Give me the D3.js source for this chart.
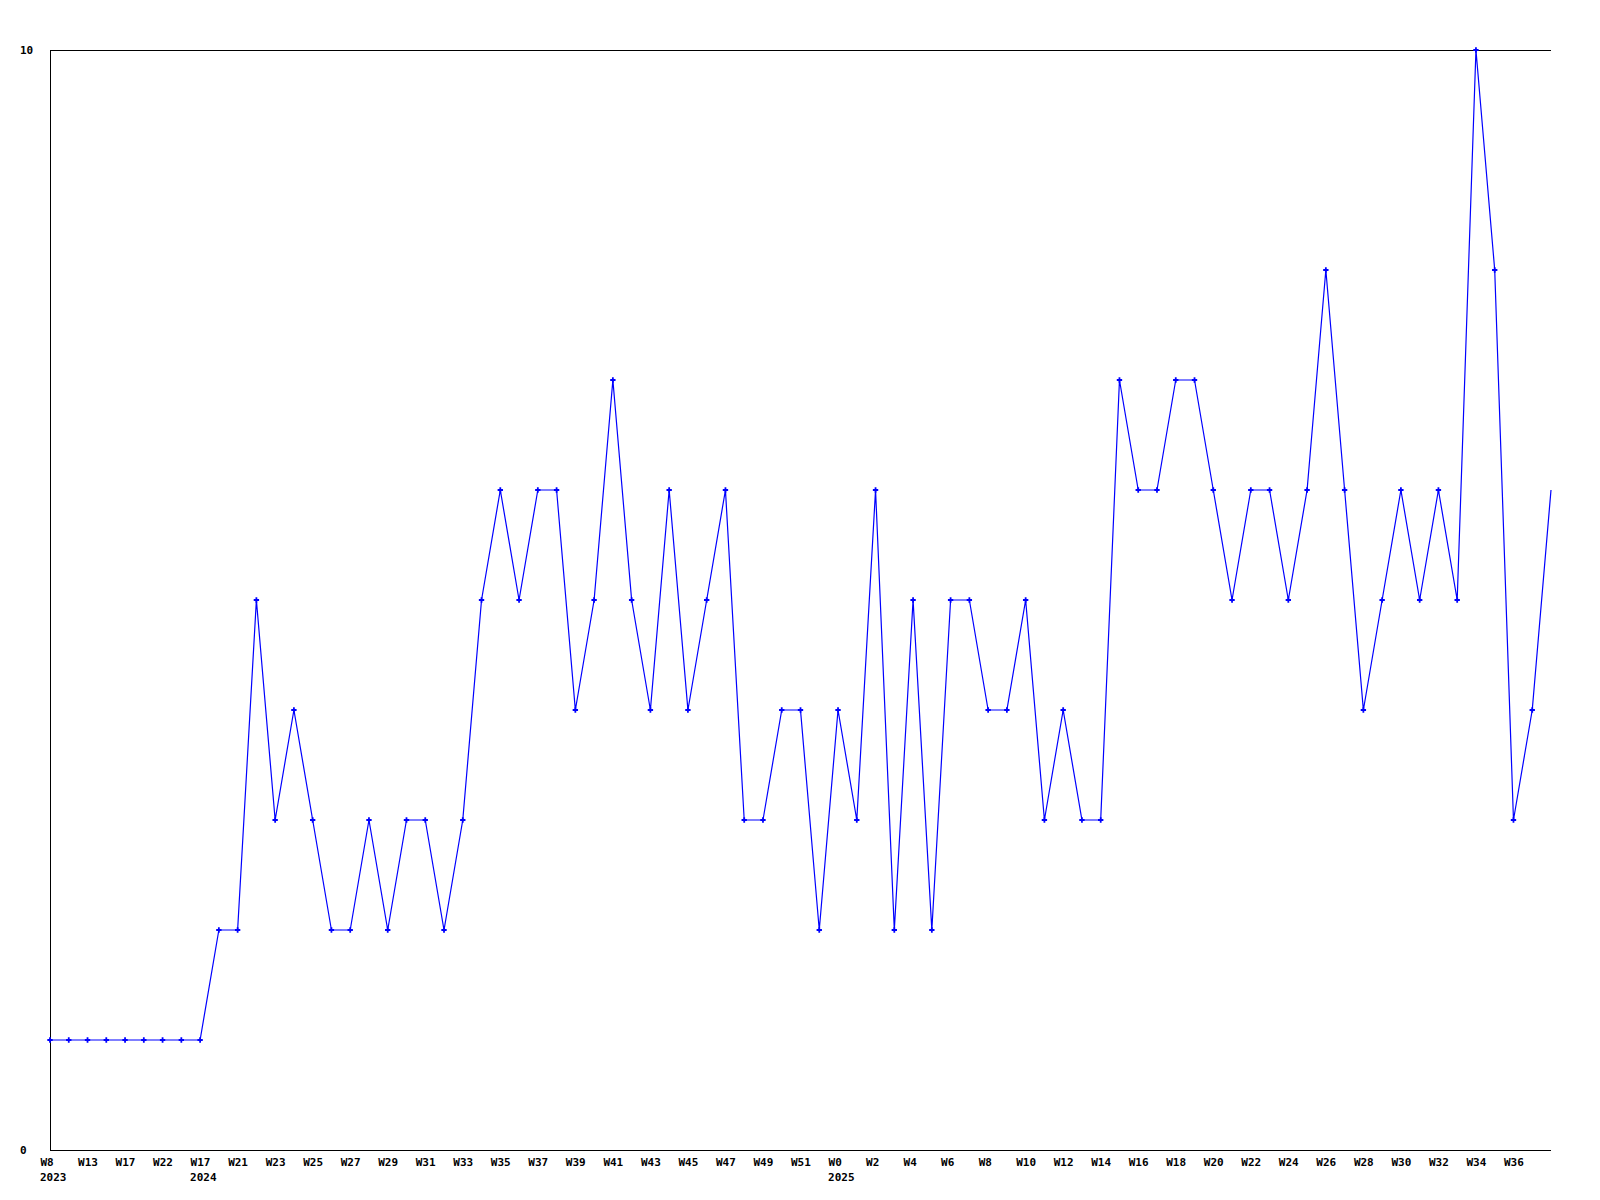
<!DOCTYPE html>
<html>
<head>
<meta charset="utf-8">
<script src="https://cdn.jsdelivr.net/npm/d3@7"></script>
<style>
  body { margin: 0; background: #fff; }
  text { font-family: "DejaVu Sans Mono", "Liberation Mono", monospace; font-size: 11px; font-weight: bold; fill: #000; }
</style>
</head>
<body>
<div class="chart"></div>
<script>
// weekly counts, one per point
var weeks = ["W8","W10","W13","W15","W17","W20","W22","W24","W17","W19",
  "W21","W22","W23","W24","W25","W26","W27","W28","W29","W30",
  "W31","W32","W33","W34","W35","W36","W37","W38","W39","W40",
  "W41","W42","W43","W44","W45","W46","W47","W48","W49","W50",
  "W51","W52","W0","W1","W2","W3","W4","W5","W6","W7",
  "W8","W9","W10","W11","W12","W13","W14","W15","W16","W17",
  "W18","W19","W20","W21","W22","W23","W24","W25","W26","W27",
  "W28","W29","W30","W31","W32","W33","W34","W35","W36","W37","W38"];
var years = [];
for (var i = 0; i < weeks.length; i++) years.push(i < 8 ? "2023" : (i < 42 ? "2024" : "2025"));

var values = [1,1,1,1,1,1,1,1,1,2,
  2,5,3,4,3,2,2,3,2,3,
  3,2,3,5,6,5,6,6,4,5,
  7,5,4,6,4,5,6,3,3,4,
  4,2,4,3,6,2,5,2,5,5,
  4,4,5,3,4,3,3,7,6,6,
  7,7,6,5,6,6,5,6,8,6,
  4,5,6,5,6,5,10,8,3,4,6];

var yTicks = [0, 10];

var width = 1600, height = 1200;
var mLeft = 50, mRight = 1551, mTop = 50, mBottom = 1150;

var svg = d3.select(".chart").append("svg")
    .attr("width", width)
    .attr("height", height);

var x = d3.scalePoint()
    .domain(d3.range(values.length))
    .range([mLeft, mRight]);

var y = d3.scaleLinear()
    .domain([0, 10])
    .range([mBottom, mTop]);

// frame: top, left, bottom (no right edge)
svg.append("path")
    .attr("d", "M" + mRight + "," + (mTop + 0.5) + "H" + (mLeft + 0.5) + "V" + (mBottom + 0.5) + "H" + mRight)
    .attr("fill", "none")
    .attr("stroke", "#000")
    .attr("stroke-width", 1)
    .style("shape-rendering", "crispEdges");

// y labels
svg.selectAll(".ylab")
    .data(yTicks)
    .enter().append("text")
    .attr("class", "ylab")
    .attr("x", 20)
    .attr("y", function (d) { return y(d) + 4; })
    .text(function (d) { return d; });

// x labels, every other point (last one dropped, as in the original)
var tickIdx = d3.range(0, values.length - 1, 2);
var xAxis = d3.axisBottom(x)
    .tickValues(tickIdx)
    .tickSize(0)
    .tickFormat(function (i) { return weeks[i]; });

var gx = svg.append("g")
    .attr("transform", "translate(0," + mBottom + ")")
    .call(xAxis)
    .attr("font-family", null)
    .attr("font-size", null)
    .attr("text-anchor", "start");
gx.select(".domain").remove();
gx.selectAll("text")
    .attr("x", -10)
    .attr("y", 8)
    .attr("dy", "0.71em");

// year labels where the year changes
var yearIdx = tickIdx.filter(function (i) {
    return i === 0 || years[i] !== years[i - 2];
});
svg.selectAll(".yr")
    .data(yearIdx)
    .enter().append("text")
    .attr("class", "yr")
    .attr("x", function (i) { return x(i) - 10; })
    .attr("y", mBottom + 31)
    .text(function (i) { return years[i]; });

// line
var line = d3.line()
    .x(function (d, i) { return x(i); })
    .y(function (d) { return y(d); });

svg.append("path")
    .datum(values)
    .attr("fill", "none")
    .attr("stroke", "#0000ff")
    .attr("stroke-width", 1.2)
    .attr("d", line);

// markers (the last point sits on the edge and gets no marker)
svg.selectAll(".pt")
    .data(values.slice(0, -1))
    .enter().append("path")
    .attr("class", "pt")
    .attr("transform", function (d, i) { return "translate(" + x(i) + "," + y(d) + ")"; })
    .attr("d", d3.symbol().type(d3.symbolCross).size(16))
    .attr("fill", "#0000ff");
</script>
</body>
</html>
